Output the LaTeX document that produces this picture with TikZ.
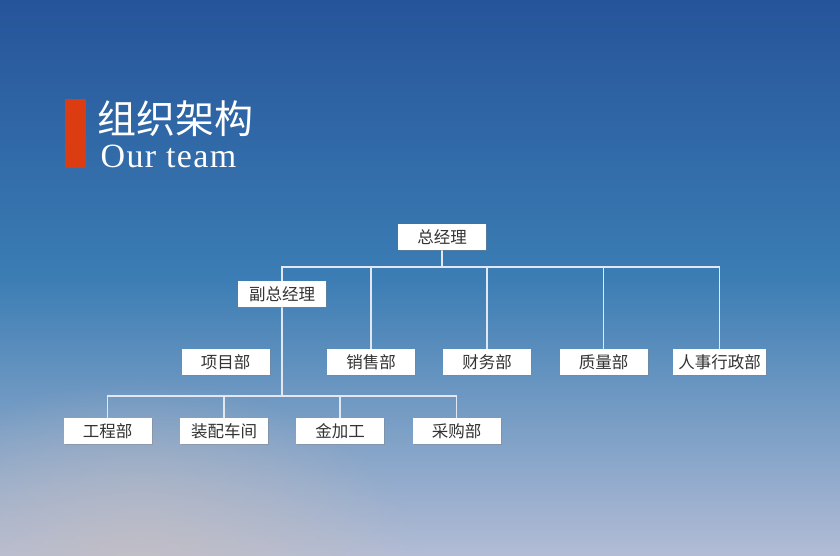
\documentclass[tikz,border=0pt]{standalone}
\usepackage{fontspec}
\newfontfamily\cjk{Noto Sans CJK SC}
\newfontfamily\serifsub{Liberation Serif}[LetterSpace=4]
\usepackage{tikz}
\usetikzlibrary{positioning,shadows,fadings}
\definecolor{skytop}{HTML}{26549A}
\definecolor{skymid}{HTML}{3B7DB4}
\definecolor{skylow}{HTML}{B2BCD5}
\definecolor{haze}{HTML}{C6BFC2}
\definecolor{barred}{HTML}{DC3C12}
\definecolor{wire}{HTML}{E2E7F2}
\definecolor{label}{HTML}{333333}
\tikzfading[name=hazefade, inner color=transparent!0, outer color=transparent!100]
\pgfdeclarelayer{sky}
\pgfdeclarelayer{wires}
\pgfsetlayers{sky,wires,main}

\begin{document}
\begin{tikzpicture}
  [
    x=1pt, y=-1pt,
    Box/.style={rectangle, fill=white, inner sep=0pt, minimum width=88pt, minimum height=26pt,
      font=\cjk\fontsize{16.5}{16.5}\selectfont, text=label,
      drop shadow={shadow xshift=1pt, shadow yshift=-1pt, opacity=0.4}},
    Wire/.style={draw=wire, line width=1.7pt, line cap=rect}
  ]
  \useasboundingbox (0,0) rectangle (840,555);
  % Background
  \begin{pgfonlayer}{sky}
    \shade[top color=skytop, bottom color=skylow, middle color=skymid] (0,0) rectangle (840,555);
    \fill[haze, fill opacity=0.8, path fading=hazefade] (140,570) ellipse [x radius=280pt, y radius=190pt];
  \end{pgfonlayer}
  % Title
  \node[fill=barred, minimum width=21pt, minimum height=69pt, inner sep=0pt] (bar) at (75.5,133.5) {};
  \node[anchor=base west, inner sep=0pt, text=white, font=\cjk\fontsize{39}{39}\selectfont] (title) at (97,133) {组织架构};
  \node[anchor=base west, inner sep=0pt, text=white, font=\serifsub\fontsize{34}{34}\selectfont] (subtitle) at (100.5,167) {Our team};
  % Nodes
  \node[Box] (zjl) at (442,237) {总经理};
  \node[Box] (fzjl) at (282,294) {副总经理};
  \node[Box] (xmb) at (225.5,362) {项目部};
  \node[Box] (xsb) at (371,362) {销售部};
  \node[Box] (cwb) at (487,362) {财务部};
  \node[Box] (zlb) at (603.5,362) {质量部};
  \node[Box, minimum width=93pt] (rsb) at (719.5,362) {人事行政部};
  \node[Box] (gcb) at (107.5,431) {工程部};
  \node[Box] (zpcj) at (224,431) {装配车间};
  \node[Box] (jjg) at (340,431) {金加工};
  \node[Box] (cgb) at (456.5,431) {采购部};
  \coordinate (bus) at (442,267);
  \coordinate (lowbus) at (282,396);
  % Lines
  \begin{pgfonlayer}{wires}
    \draw[Wire] (zjl) -- (bus);
    \draw[Wire] (fzjl |- bus) -- (rsb.north |- bus);
    \draw[Wire] (fzjl |- bus) -- (lowbus);
    \foreach \n in {xsb,cwb,zlb,rsb}
      \draw[Wire] (\n.north |- bus) -- (\n.north);
    \draw[Wire] (gcb.north |- lowbus) -- (cgb.north |- lowbus);
    \foreach \n in {gcb,zpcj,jjg,cgb}
      \draw[Wire] (\n.north |- lowbus) -- (\n.north);
  \end{pgfonlayer}
\end{tikzpicture}
\end{document}
